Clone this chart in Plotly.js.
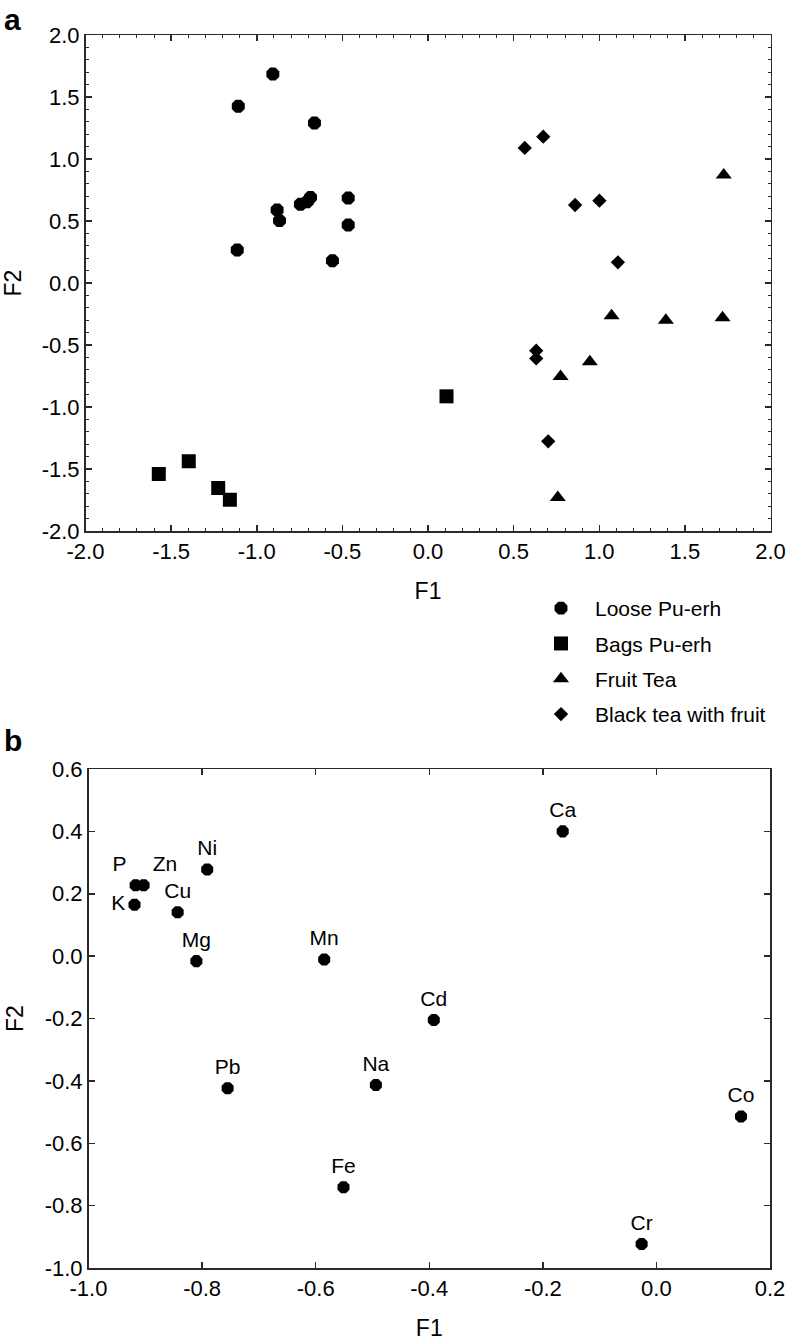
<!DOCTYPE html>
<html>
<head>
<meta charset="utf-8">
<script src="https://cdn.plot.ly/plotly-3.0.1.min.js"></script>
<style>html,body{margin:0;padding:0;background:#fff;}#chart{width:788px;height:1341px;}</style>
</head>
<body>
<div id="chart"></div>
<script>
// ---------- Panel a data (F1/F2 scores) ----------
const groupNames = ['Loose Pu-erh', 'Bags Pu-erh', 'Fruit Tea', 'Black tea with fruit'];
const looseF1 = [-0.906, -1.108, -0.663, -0.466, -0.466, -0.686, -0.706, -0.745, -0.881, -0.867, -1.114, -0.558];
const looseF2 = [1.685, 1.425, 1.290, 0.685, 0.468, 0.690, 0.656, 0.635, 0.589, 0.503, 0.266, 0.180];
const bagsF1 = [-1.572, -1.397, -1.225, -1.157, 0.108];
const bagsF2 = [-1.540, -1.438, -1.653, -1.747, -0.914];
const fruitF1 = [1.727, 1.072, 1.389, 1.720, 0.945, 0.774, 0.758];
const fruitF2 = [0.870, -0.265, -0.300, -0.280, -0.635, -0.755, -1.730];
const blackF1 = [0.565, 0.673, 0.859, 1.001, 1.109, 0.632, 0.632, 0.702];
const blackF2 = [1.089, 1.180, 0.629, 0.664, 0.167, -0.546, -0.608, -1.277];

// ---------- Panel b data (element loadings) ----------
const elements = ['Ca', 'Ni', 'P', 'Zn', 'K', 'Cu', 'Mg', 'Mn', 'Cd', 'Pb', 'Na', 'Fe', 'Cr', 'Co'];
const elemF1 = [-0.165, -0.791, -0.917, -0.903, -0.919, -0.843, -0.810, -0.585, -0.392, -0.755, -0.494, -0.551, -0.026, 0.149];
const elemF2 = [0.400, 0.278, 0.227, 0.227, 0.165, 0.141, -0.016, -0.011, -0.205, -0.424, -0.413, -0.741, -0.923, -0.514];

// ---------- Tick labels ----------
const aTickVals = [-2, -1.5, -1, -0.5, 0, 0.5, 1, 1.5, 2];
const aTickText = ['-2.0', '-1.5', '-1.0', '-0.5', '0.0', '0.5', '1.0', '1.5', '2.0'];
const bXTickVals = [-1, -0.8, -0.6, -0.4, -0.2, 0, 0.2];
const bXTickText = ['-1.0', '-0.8', '-0.6', '-0.4', '-0.2', '0.0', '0.2'];
const bYTickVals = [-1, -0.8, -0.6, -0.4, -0.2, 0, 0.2, 0.4, 0.6];
const bYTickText = ['-1.0', '-0.8', '-0.6', '-0.4', '-0.2', '0.0', '0.2', '0.4', '0.6'];

// ---------- Styles (kept separate from data) ----------
const FONT = 'Liberation Sans, Arial, sans-serif';
const INK = '#000';
const AX = '#2a2a2a';
const elemTextPos = ['top center', 'top center', 'top left', 'top right', 'middle left', 'top center', 'top center',
  'top center', 'top center', 'top center', 'top center', 'top center', 'top center', 'top center'];

const traces = [
  {x: looseF1, y: looseF2, name: groupNames[0], legendgroup: 'g1', type: 'scatter', mode: 'markers',
   marker: {symbol: 'octagon', size: 14, color: INK}, xaxis: 'x', yaxis: 'y'},
  {x: bagsF1, y: bagsF2, name: groupNames[1], legendgroup: 'g2', type: 'scatter', mode: 'markers',
   marker: {symbol: 'square', size: 14, color: INK}, xaxis: 'x', yaxis: 'y'},
  {x: fruitF1, y: fruitF2, name: groupNames[2], legendgroup: 'g3', type: 'scatter', mode: 'markers',
   marker: {symbol: 'triangle-up', size: 14, color: INK}, xaxis: 'x', yaxis: 'y'},
  {x: blackF1, y: blackF2, name: groupNames[3], legendgroup: 'g4', type: 'scatter', mode: 'markers',
   marker: {symbol: 'diamond', size: 11, color: INK}, xaxis: 'x', yaxis: 'y'},
  {x: elemF1, y: elemF2, text: elements, type: 'scatter', mode: 'markers+text', showlegend: false,
   textposition: elemTextPos, textfont: {family: FONT, size: 21, color: INK},
   marker: {symbol: 'octagon', size: 13, color: INK}, xaxis: 'x2', yaxis: 'y2', cliponaxis: false}
];

function axisBase(extra) {
  return Object.assign({
    showline: true, linecolor: AX, linewidth: 1.5, mirror: 'ticks',
    ticks: 'inside', ticklen: 6, tickwidth: 1.5, tickcolor: AX,
    showgrid: false, zeroline: false, fixedrange: true,
    tickfont: {family: FONT, size: 22, color: INK},
    automargin: false
  }, extra);
}

const W = 788, H = 1341;
const titleFont = {family: FONT, size: 23, color: INK};
const layout = {
  width: W, height: H,
  margin: {l: 0, r: 0, t: 0, b: 0},
  paper_bgcolor: '#fff', plot_bgcolor: '#fff',
  font: {family: FONT, color: INK},
  showlegend: true,
  legend: {
    x: 527 / W, xanchor: 'left', y: 1 - 588 / H, yanchor: 'top',
    font: {family: FONT, size: 21, color: INK},
    traceorder: 'grouped', tracegroupgap: 5, itemwidth: 58,
    bgcolor: 'rgba(0,0,0,0)', borderwidth: 0
  },
  xaxis: axisBase({
    domain: [85.5 / W, 770.5 / W], range: [-2, 2], anchor: 'y',
    tickmode: 'array', tickvals: aTickVals, ticktext: aTickText,
    minor: {ticks: 'inside', ticklen: 3, tickwidth: 1, tickcolor: AX, dtick: 0.1, showgrid: false},
    title: {text: 'F1', font: titleFont, standoff: 20}
  }),
  yaxis: axisBase({
    domain: [1 - 531 / H, 1 - 35 / H], range: [-2, 2], anchor: 'x',
    tickmode: 'array', tickvals: aTickVals, ticktext: aTickText,
    minor: {ticks: 'inside', ticklen: 3, tickwidth: 1, tickcolor: AX, dtick: 0.1, showgrid: false},
    title: {text: 'F2', font: titleFont, standoff: 14}
  }),
  xaxis2: axisBase({
    domain: [88.5 / W, 770 / W], range: [-1, 0.2], anchor: 'y2',
    tickmode: 'array', tickvals: bXTickVals, ticktext: bXTickText,
    title: {text: 'F1', font: titleFont, standoff: 20}
  }),
  yaxis2: axisBase({
    domain: [1 - 1268 / H, 1 - 769 / H], range: [-1, 0.6], anchor: 'x2',
    tickmode: 'array', tickvals: bYTickVals, ticktext: bYTickText,
    title: {text: 'F2', font: titleFont, standoff: 14}
  }),
  annotations: [
    {text: '<b>a</b>', xref: 'paper', yref: 'paper', x: 2 / W, y: 1 - 1 / H, xanchor: 'left', yanchor: 'top',
     showarrow: false, font: {family: FONT, size: 30, color: INK}},
    {text: '<b>b</b>', xref: 'paper', yref: 'paper', x: 2 / W, y: 1 - 722 / H, xanchor: 'left', yanchor: 'top',
     showarrow: false, font: {family: FONT, size: 30, color: INK}}
  ]
};

Plotly.newPlot('chart', traces, layout, {staticPlot: true, displayModeBar: false});
</script>
</body>
</html>
